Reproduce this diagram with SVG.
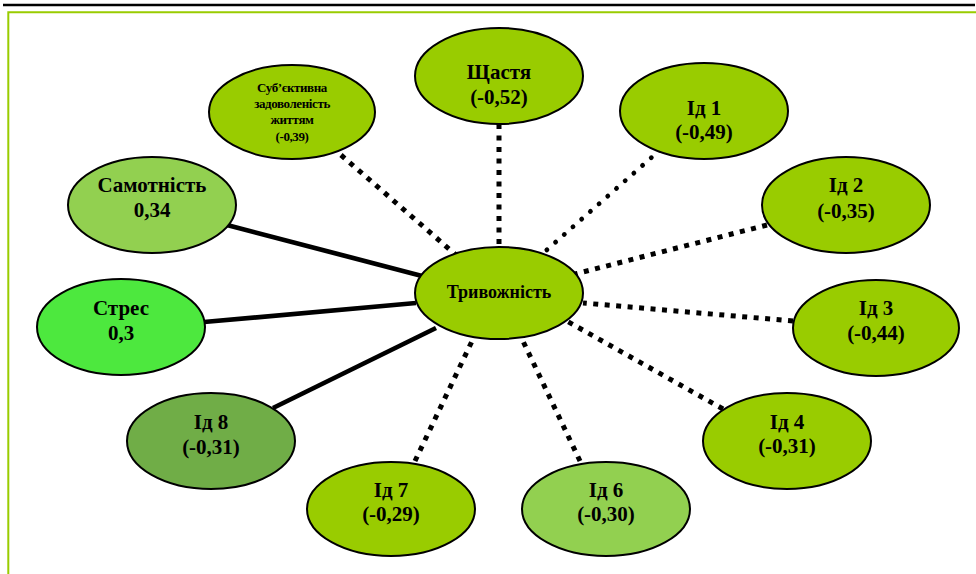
<svg xmlns="http://www.w3.org/2000/svg" width="976" height="574" viewBox="0 0 976 574">
<style>
.n{stroke:#000;stroke-width:2}
.a{fill:#99cc00}
.b{fill:#92d050}
.c{fill:#4de83e}
.d{fill:#70ad47}
text{font-family:"Liberation Serif","Times New Roman",serif;font-weight:bold;fill:#000;text-anchor:middle;font-size:21px}
.t{font-size:18px}
.s{font-size:13px;letter-spacing:-0.4px}
.solid{stroke:#000;stroke-width:4.7;fill:none}
.sq{stroke:#000;stroke-width:5;stroke-dasharray:5 6.5;fill:none}
.rd{stroke:#000;stroke-width:4.8;stroke-dasharray:0.1 11.5;stroke-linecap:round;fill:none}
</style>
<rect width="976" height="574" fill="#fff"/>
<line x1="3" y1="5" x2="975" y2="5" stroke="#000" stroke-width="2.6"/>
<path d="M8.3 576 V12.3 H978" fill="none" stroke="#99cc00" stroke-width="2"/>
<g id="connectors">
<line class="solid" x1="227" y1="225" x2="422" y2="276"/>
<line class="solid" x1="204" y1="322" x2="416" y2="303"/>
<line class="solid" x1="273" y1="408" x2="436" y2="328"/>
<line class="sq" x1="341" y1="155" x2="456" y2="255"/>
<line class="sq" x1="499" y1="124" x2="499" y2="248"/>
<line class="rd" x1="660" y1="150" x2="541" y2="255"/>
<line class="sq" x1="767" y1="225" x2="575" y2="274"/>
<line class="sq" x1="793" y1="321" x2="583" y2="303"/>
<line class="sq" x1="723" y1="409" x2="565" y2="320"/>
<line class="sq" x1="580" y1="461" x2="521" y2="337"/>
<line class="sq" x1="415" y1="461" x2="474" y2="337"/>
</g>
<g id="node-trivozhnist"><ellipse class="n a" cx="499" cy="293" rx="84" ry="46"/><text class="t" x="499" y="298">Тривожність</text></g>
<g id="node-shchastia"><ellipse class="n a" cx="499" cy="76" rx="84" ry="48"/><text x="499" y="79">Щастя</text><text x="499" y="104">(-0,52)</text></g>
<g id="node-sub"><ellipse class="n a" cx="292" cy="112" rx="83" ry="47"/><text class="s" x="292" y="92">Суб’єктивна</text><text class="s" x="292" y="108">задоволеність</text><text class="s" x="292" y="124">життям</text><text class="s" x="292" y="141">(-0,39)</text></g>
<g id="node-id1"><ellipse class="n a" cx="704" cy="111" rx="84" ry="48"/><text x="704" y="115">Ід 1</text><text x="704" y="139">(-0,49)</text></g>
<g id="node-id2"><ellipse class="n a" cx="846" cy="205" rx="84" ry="48"/><text x="846" y="192">Ід 2</text><text x="846" y="218">(-0,35)</text></g>
<g id="node-id3"><ellipse class="n a" cx="876" cy="328" rx="83" ry="48"/><text x="876" y="315">Ід 3</text><text x="876" y="340">(-0,44)</text></g>
<g id="node-id4"><ellipse class="n a" cx="787" cy="441" rx="84" ry="48"/><text x="787" y="429">Ід 4</text><text x="787" y="453">(-0,31)</text></g>
<g id="node-id6"><ellipse class="n b" cx="606" cy="509" rx="84" ry="47"/><text x="606" y="497">Ід 6</text><text x="606" y="521">(-0,30)</text></g>
<g id="node-id7"><ellipse class="n a" cx="391" cy="509" rx="84" ry="47"/><text x="391" y="497">Ід 7</text><text x="391" y="521">(-0,29)</text></g>
<g id="node-id8"><ellipse class="n d" cx="211" cy="441" rx="84" ry="48"/><text x="211" y="429">Ід 8</text><text x="211" y="454">(-0,31)</text></g>
<g id="node-stres"><ellipse class="n c" cx="121" cy="327" rx="84" ry="48"/><text x="121" y="315">Стрес</text><text x="121" y="340">0,3</text></g>
<g id="node-samotnist"><ellipse class="n b" cx="152" cy="205" rx="84" ry="48"/><text x="152" y="192">Самотність</text><text x="152" y="217">0,34</text></g>
</svg>
